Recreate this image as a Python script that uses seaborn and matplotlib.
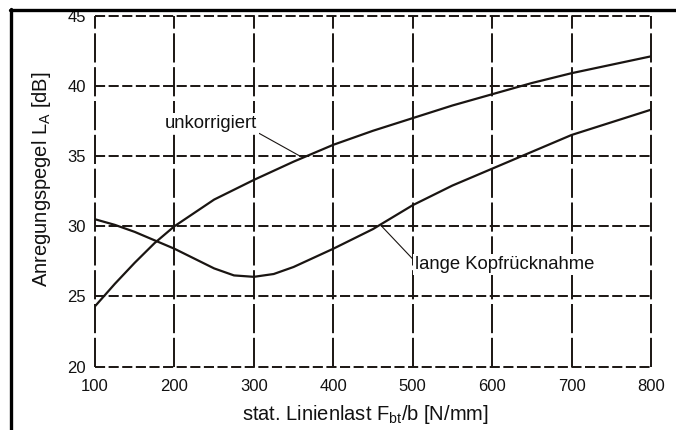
import matplotlib
matplotlib.use("Agg")
import matplotlib.pyplot as plt
from matplotlib.lines import Line2D
import seaborn as sns
import pandas as pd

# Static line load F_bt/b in N/mm and excitation level L_A in dB
load_unkorr = [100, 125, 150, 175, 200, 250, 300, 350, 400, 450, 500, 550, 600, 650, 700, 750, 800]
level_unkorr = [24.3, 25.9, 27.4, 28.8, 30.0, 31.9, 33.3, 34.6, 35.8, 36.8, 37.7, 38.6, 39.4, 40.2, 40.9, 41.5, 42.1]

load_kopf = [100, 125, 150, 175, 200, 225, 250, 275, 300, 325, 350, 400, 450, 500, 550, 600, 650, 700, 750, 800]
level_kopf = [30.5, 30.1, 29.6, 29.0, 28.4, 27.7, 27.0, 26.5, 26.4, 26.6, 27.1, 28.4, 29.8, 31.5, 32.9, 34.1, 35.3, 36.5, 37.4, 38.3]

x_ticks = [100, 200, 300, 400, 500, 600, 700, 800]
y_ticks = [20, 25, 30, 35, 40, 45]

sns.set_theme(style="white")
plt.rcParams["font.family"] = ["Liberation Sans", "DejaVu Sans"]
plt.rcParams["mathtext.fontset"] = "custom"
plt.rcParams["mathtext.rm"] = "Liberation Sans"
plt.rcParams["mathtext.it"] = "Liberation Sans:italic"

ink = "#1a1512"
txt = "#111111"

fig = plt.figure(figsize=(6.76, 4.30), dpi=100)
ax = fig.add_axes([0.1405, 0.1472, 0.8225, 0.8165])

df_u = pd.DataFrame({"load": load_unkorr, "level": level_unkorr})
df_k = pd.DataFrame({"load": load_kopf, "level": level_kopf})

ax.set_xlim(100, 800)
ax.set_ylim(20, 45)

# dashed grid, including the outer edges of the plotting area
for xv in x_ticks:
    ax.axvline(xv, color=ink, lw=1.4, linestyle=(0, (15.0, 2.4)), clip_on=False, zorder=1)
for yv in y_ticks:
    ax.axhline(yv, color=ink, lw=1.4, linestyle=(0, (5.2, 1.8)), clip_on=False, zorder=1)

sns.lineplot(data=df_u, x="load", y="level", ax=ax, color=ink, lw=1.6, zorder=3)
sns.lineplot(data=df_k, x="load", y="level", ax=ax, color=ink, lw=1.6, zorder=3)

for s in ax.spines.values():
    s.set_visible(False)

ax.set_xticks(x_ticks)
ax.set_yticks(y_ticks)
ax.tick_params(axis="both", length=0, labelsize=12, colors=txt)
ax.tick_params(axis="x", pad=8.5)
ax.tick_params(axis="y", pad=6.5)

ax.set_xlabel("stat. Linienlast F$_\\mathrm{bt}$/b [N/mm]", fontsize=14.5, color=txt,
              labelpad=7, x=0.487)
ax.set_ylabel("Anregungspegel L$_\\mathrm{A}$ [dB]", fontsize=14.5, color=txt,
              labelpad=10, y=0.535)

# callout labels
ax.annotate("unkorrigiert", xy=(358, 35.0), xytext=(188, 37.3),
            fontsize=13.3, color=txt, va="center", ha="left",
            bbox=dict(facecolor="white", edgecolor="none", pad=1.5),
            arrowprops=dict(arrowstyle="-", color=ink, lw=0.8, shrinkA=0, shrinkB=0,
                            relpos=(1.0, 0.0)),
            zorder=5)
ax.annotate("lange Kopfrücknahme", xy=(461, 30.0), xytext=(503, 27.25),
            fontsize=13.3, color=txt, va="center", ha="left",
            bbox=dict(facecolor="white", edgecolor="none", pad=1.5),
            arrowprops=dict(arrowstyle="-", color=ink, lw=0.8, shrinkA=0, shrinkB=0,
                            relpos=(0.0, 0.7)),
            zorder=5)

# outer frame: top and left edge
W, H = 676, 430
fig.add_artist(Line2D([10 / W, 1.0], [1 - 9.5 / H, 1 - 9.5 / H], color="black", lw=2.4,
                      transform=fig.transFigure))
fig.add_artist(Line2D([11 / W, 11 / W], [0.0, 1 - 8.5 / H], color="black", lw=2.4,
                      transform=fig.transFigure))

fig.savefig("out.png", dpi=100)
